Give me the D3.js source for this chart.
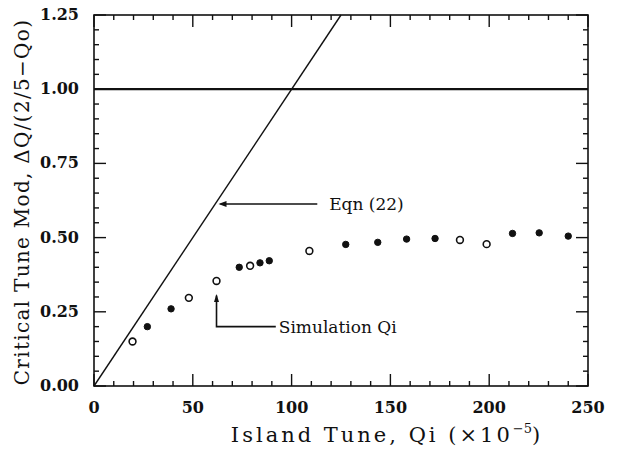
<!DOCTYPE html>
<html>
<head>
<meta charset="utf-8">
<script src="https://cdn.jsdelivr.net/npm/d3@7"></script>
<style>
  html, body { margin: 0; padding: 0; background: #fff; }
  svg text { font-family: 'DejaVu Serif', serif; fill: #111; }
</style>
</head>
<body>
<svg id="chart" width="618" height="449"></svg>
<script>
// simulation points
const simX = [19.5, 27, 39, 48, 62, 73.5, 79, 84, 88.7, 109, 127.4, 143.6, 158.2, 172.6, 185.2, 198.7, 211.8, 225.3, 240];
const simY = [0.15, 0.20, 0.26, 0.297, 0.354, 0.40, 0.405, 0.415, 0.422, 0.455, 0.477, 0.484, 0.495, 0.497, 0.492, 0.478, 0.514, 0.516, 0.505];
const simOpen = [true, false, false, true, true, false, true, false, false, true, false, false, false, false, true, true, false, false, false];
const eqnX = [0, 125];
const eqnY = [0, 1.25];
const xTicks = [0, 50, 100, 150, 200, 250];
const yTicks = [0, 0.25, 0.5, 0.75, 1.0, 1.25];

const svg = d3.select('#chart');
const padLeft = 94, padRight = 588, padTop = 15, padBottom = 386;

const x = d3.scaleLinear().domain([0, 250]).range([padLeft, padRight]);
const y = d3.scaleLinear().domain([0, 1.25]).range([padBottom, padTop]);

// frame
svg.append('rect')
  .attr('x', padLeft).attr('y', padTop)
  .attr('width', padRight - padLeft).attr('height', padBottom - padTop)
  .attr('fill', 'none').attr('stroke', '#111').attr('stroke-width', 1.6);

// ticks, inward on all four sides
const minorX = d3.range(0, 251, 10).filter((v) => v % 50 != 0);
const minorY = d3.range(0, 1.2501, 0.05).filter((v) => Math.abs(v / 0.25 - Math.round(v / 0.25)) > 1e-6);

const ticks = svg.append('g').attr('stroke', '#111').attr('stroke-width', 1.4);
function xTick(v, len) {
  ticks.append('line').attr('x1', x(v)).attr('x2', x(v)).attr('y1', padBottom).attr('y2', padBottom - len);
  ticks.append('line').attr('x1', x(v)).attr('x2', x(v)).attr('y1', padTop).attr('y2', padTop + len);
}
function yTick(v, len) {
  ticks.append('line').attr('y1', y(v)).attr('y2', y(v)).attr('x1', padLeft).attr('x2', padLeft + len);
  ticks.append('line').attr('y1', y(v)).attr('y2', y(v)).attr('x1', padRight).attr('x2', padRight - len);
}
xTicks.forEach((v) => xTick(v, 12));
minorX.forEach((v) => xTick(v, 5));
yTicks.forEach((v) => yTick(v, 12));
minorY.forEach((v) => yTick(v, 5));

// tick labels
svg.append('g').selectAll('text').data(xTicks).join('text')
  .attr('x', (d) => x(d)).attr('y', 413)
  .attr('text-anchor', 'middle')
  .style('font-size', '16px').style('font-weight', 'bold')
  .text((d) => d);

svg.append('g').selectAll('text').data(yTicks).join('text')
  .attr('x', 79).attr('y', (d) => y(d) + 5)
  .attr('text-anchor', 'end')
  .style('font-size', '16px').style('font-weight', 'bold')
  .text((d) => d3.format('.2f')(d));

// axis titles
const xt = svg.append('text')
  .attr('x', 387).attr('y', 442)
  .attr('text-anchor', 'middle')
  .style('font-size', '21px')
  .style('letter-spacing', '3px');
xt.append('tspan').text('Island Tune, Qi (\u00d710');
xt.append('tspan').attr('dy', -9).style('font-size', '13px').style('letter-spacing', '0px').text('\u22125');
xt.append('tspan').attr('dy', 9).text(')');

svg.append('text')
  .attr('transform', 'translate(29,' + 202 + ') rotate(-90)')
  .attr('text-anchor', 'middle')
  .style('font-size', '20px')
  .style('letter-spacing', '1.3px')
  .text('Critical Tune Mod, \u0394Q/(2/5\u2212Qo)');

// horizontal line at 1.0
svg.append('line')
  .attr('x1', x(0)).attr('x2', x(250))
  .attr('y1', y(1)).attr('y2', y(1))
  .attr('stroke', '#111').attr('stroke-width', 2.2);

// Eqn (22)
svg.append('line')
  .attr('x1', x(eqnX[0])).attr('y1', y(eqnY[0]))
  .attr('x2', x(eqnX[1])).attr('y2', y(eqnY[1]))
  .attr('stroke', '#111').attr('stroke-width', 1.4);

// simulation points
const pts = simX.map((v, i) => ({ x: v, y: simY[i], open: simOpen[i] }));
svg.append('g').selectAll('circle').data(pts).join('circle')
  .attr('cx', (d) => x(d.x)).attr('cy', (d) => y(d.y))
  .attr('r', (d) => (d.open ? 3.4 : 3.2))
  .attr('fill', (d) => (d.open ? '#fff' : '#111'))
  .attr('stroke', '#111')
  .attr('stroke-width', (d) => (d.open ? 1.6 : 1));

// annotations
const ann = svg.append('g').attr('stroke', '#111').attr('stroke-width', 1.6).attr('fill', 'none');
const eqnArrowY = y(0.613);
ann.append('line').attr('x1', x(64)).attr('x2', x(113)).attr('y1', eqnArrowY).attr('y2', eqnArrowY);
svg.append('path')
  .attr('d', `M${x(63)},${eqnArrowY} l8,-3 l0,6 z`)
  .attr('fill', '#111');
svg.append('text')
  .attr('x', x(119)).attr('y', eqnArrowY + 6)
  .style('font-size', '17px')
  .text('Eqn (22)');

const simArrowX = x(62);
ann.append('path')
  .attr('d', `M${simArrowX},${y(0.305)} V${y(0.20)} H${x(92)}`);
svg.append('path')
  .attr('d', `M${simArrowX},${y(0.31)} l-2.5,8 l5,0 z`)
  .attr('fill', '#111');
svg.append('text')
  .attr('x', x(93.5)).attr('y', y(0.20) + 6)
  .style('font-size', '17px')
  .text('Simulation Qi');
</script>
</body>
</html>
